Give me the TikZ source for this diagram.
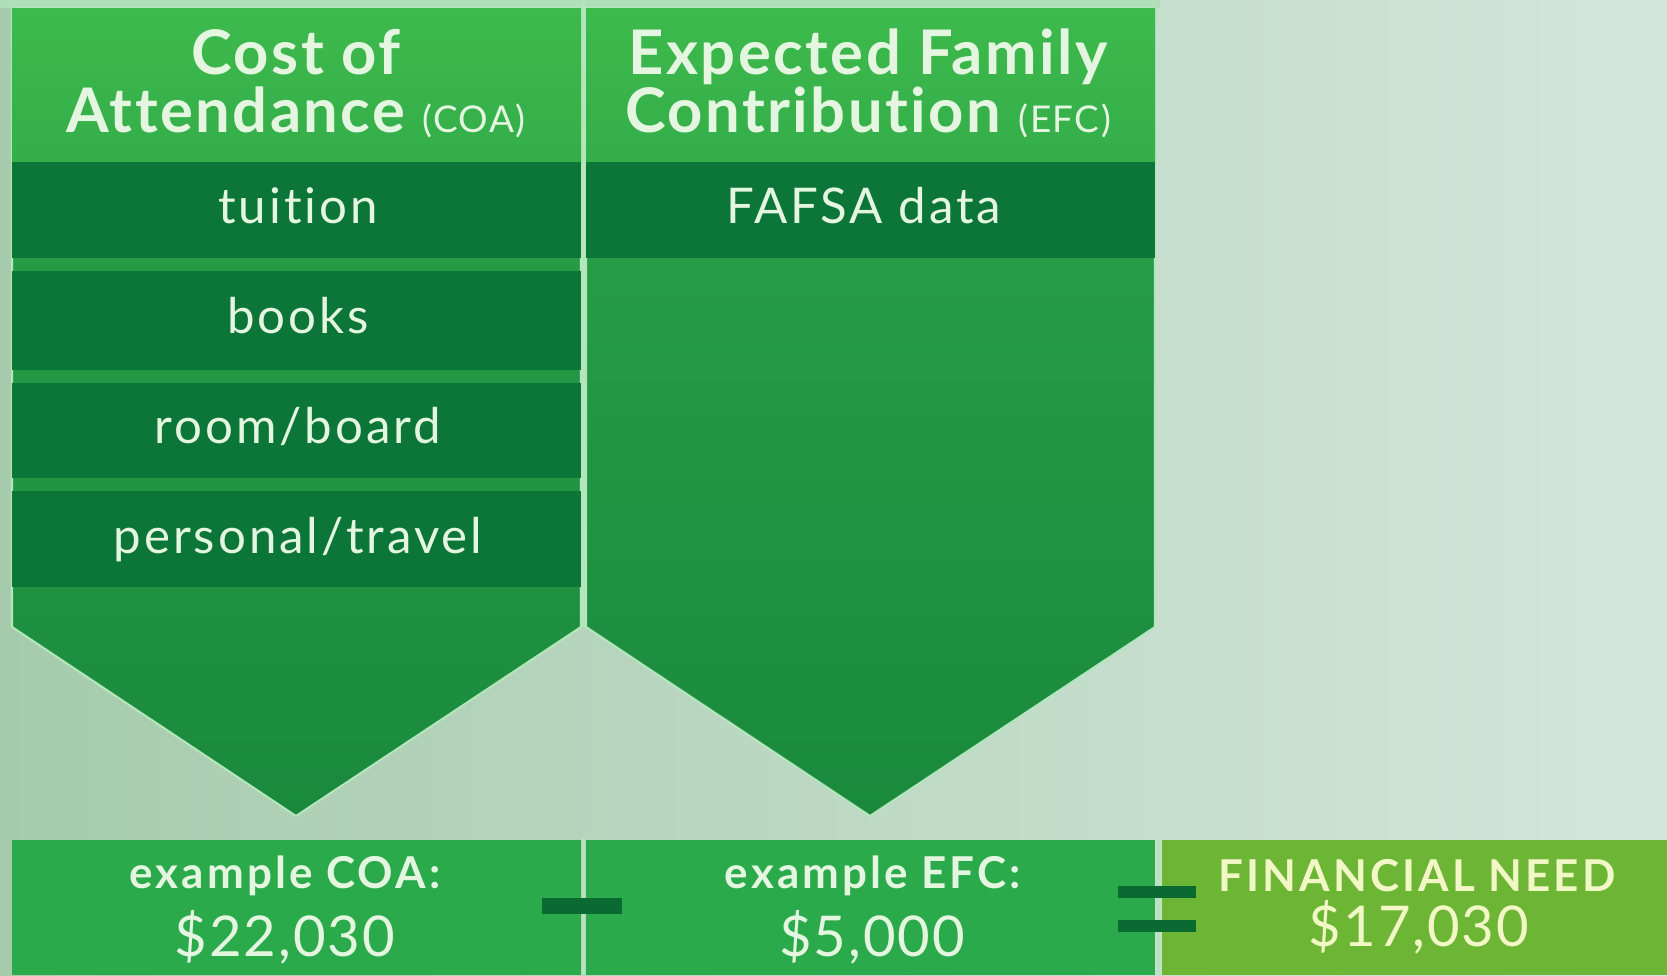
\documentclass[tikz,border=0pt]{standalone}
\usepackage{fontspec}
\setmainfont[Ligatures=NoCommon]{Lato}
\newfontfamily\hdrfont[LetterSpace=4,Ligatures=NoCommon]{Lato}
\newfontfamily\rowfont[LetterSpace=6,Ligatures=NoCommon]{Lato}
\newfontfamily\exfont[LetterSpace=7,Ligatures=NoCommon]{Lato}
\newfontfamily\numfont[LetterSpace=3.5]{Lato}
\definecolor{bgL}{HTML}{A6CBAC}
\definecolor{bgR}{HTML}{D3E6DC}
\definecolor{hdrT}{HTML}{3DBA4C}
\definecolor{hdrB}{HTML}{34AE4A}
\definecolor{bodyT}{HTML}{2CA44A}
\definecolor{bodyB}{HTML}{1A893D}
\definecolor{rowc}{HTML}{0B7638}
\definecolor{boxg}{HTML}{2BAA4B}
\definecolor{boxy}{HTML}{6CB535}
\definecolor{barc}{HTML}{0A6B32}
\definecolor{edge}{HTML}{B4E6BB}
\definecolor{txt}{HTML}{E4F6E0}
\definecolor{txty}{HTML}{F2F7C6}
\tikzset{
  rowbox/.style={fill=rowc},
  hdrbox/.style={top color=hdrT,bottom color=hdrB},
  hdrtext/.style={text=txt,font=\hdrfont\bfseries\fontsize{35}{37}\selectfont,anchor=base,inner sep=0pt},
  rowtext/.style={text=txt,font=\rowfont\fontsize{28}{30}\selectfont,anchor=base,inner sep=0pt},
  extext/.style={text=txt,font=\exfont\bfseries\fontsize{25}{27}\selectfont,anchor=base,inner sep=0pt},
  numtext/.style={text=txt,font=\numfont\fontsize{32}{34}\selectfont,anchor=base,inner sep=0pt},
  bar/.style={fill=barc}
}
\newcommand{\abbr}[1]{{\mdseries\fontsize{21}{23}\selectfont #1}}
\begin{document}
\begin{tikzpicture}[x=0.02cm,y=-0.02cm]
\useasboundingbox (0,0) rectangle (1667,975);
\shade[left color=bgL,right color=bgR] (0,0) rectangle (1667,975);
\fill[edge!70!bgL] (0,0) rectangle (1160,8);
% columns
\shade[top color=bodyT,bottom color=bodyB,draw=edge,line width=1.2pt]
  (12,8) -- (581,8) -- (581,627) -- (296,816) -- (12,627) -- cycle;
\shade[top color=bodyT,bottom color=bodyB,draw=edge,line width=1.2pt]
  (586,8) -- (1155,8) -- (1155,627) -- (870,816) -- (586,627) -- cycle;
% headers
\shade[hdrbox] (12,8) rectangle (581,162);
\shade[hdrbox] (586,8) rectangle (1155,162);
% rows
\fill[rowbox] (12,162) rectangle (581,258);
\fill[rowbox] (12,271) rectangle (581,370);
\fill[rowbox] (12,383) rectangle (581,478);
\fill[rowbox] (12,491) rectangle (581,587);
\fill[rowbox] (586,162) rectangle (1155,258);
% bottom boxes
\fill[boxg] (12,840) rectangle (581,975);
\fill[boxg] (586,840) rectangle (1155,975);
\fill[boxy] (1162,840) rectangle (1667,975);
% separators
\draw[edge,line width=1.2pt] (583.5,0) -- (583.5,627);
\draw[edge,line width=1.2pt] (583.5,838) -- (583.5,975);
\draw[edge,line width=1.2pt] (1158.5,838) -- (1158.5,975);
% header texts
\node[hdrtext] (h1a) at (296,74) {Cost of};
\node[hdrtext] (h1b) at (296,132) {Attendance \abbr{(COA)}};
\node[hdrtext] (h2a) at (868,74) {Expected Family};
\node[hdrtext] (h2b) at (868,132) {Contribution \abbr{(EFC)}};
% row texts
\node[rowtext] (r1) at (298,223) {tuition};
\node[rowtext] (r2) at (298,333) {books};
\node[rowtext] (r3) at (298,443) {room/board};
\node[rowtext] (r4) at (298,553) {personal/travel};
\node[rowtext] (r5) at (864,223) {FAFSA data};
% bottom texts
\node[extext] (e1) at (285,888) {example COA:};
\node[numtext] (n1) at (285,956) {\$22,030};
\node[extext] (e2) at (873,888) {example EFC:};
\node[numtext] (n2) at (872,956) {\$5,000};
\node[extext,text=txty] (e3) at (1417,891) {FINANCIAL NEED};
\node[numtext,text=txty] (n3) at (1419,946) {\$17,030};
% operators
\fill[bar] (542,898) rectangle (622,914);
\fill[bar] (1118,886) rectangle (1196,898);
\fill[bar] (1118,920) rectangle (1196,932);
\end{tikzpicture}
\end{document}
